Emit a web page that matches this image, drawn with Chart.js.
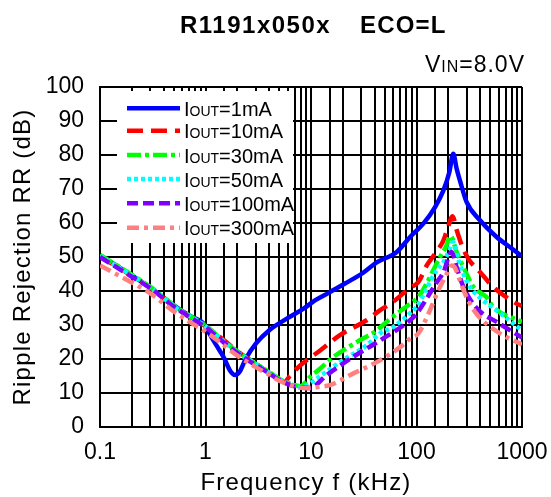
<!DOCTYPE html>
<html>
<head>
<meta charset="utf-8">
<script src="https://cdn.jsdelivr.net/npm/chart.js@4.4.1/dist/chart.umd.min.js"></script>
<style>
html,body{margin:0;padding:0;background:#fff;}
canvas{display:block;}
</style>
</head>
<body>
<canvas id="c" width="551" height="497"></canvas>
<script>
// ---- data (frequency in kHz, ripple rejection in dB) ----
const seriesNames = ["1mA", "10mA", "30mA", "50mA", "100mA", "300mA"];
const xTickLabels = ["0.1", "1", "10", "100", "1000"];
const yTickValues = [0, 10, 20, 30, 40, 50, 60, 70, 80, 90, 100];

const f1mA = [0.1,0.2,0.3,0.5,0.7,1,1.1,1.3,1.5,1.7,1.9,2.1,2.4,3,4,6,8.5,11,15,21,30,42,65,87,116,150,180,205,223,240,258,298,400,575,800,1000];
const rr1mA = [50.5,44.6,41,35.8,32.8,29.8,27.2,23.5,20.3,16.7,15.3,16.2,20,24.5,28.4,32,34.8,37.3,39.6,42.2,45,48.4,51.5,55.9,59.8,64.7,69.6,75,80.4,76,72.5,66.2,60.8,55.9,52.5,50.2];

const f10mA = [0.1,0.2,0.3,0.5,0.7,1,1.5,2,3,4,5,5.6,6.3,7.9,12.2,18.8,33.6,45,60,87,104,125,150,180,197,220,240,276,318,400,533,890,1000];
const rr10mA = [50.2,44.5,41,35.6,32.6,29.6,25.5,22.3,18.6,16,14,13.2,15,18.1,22.5,27,31.4,34.3,36.8,41,42.6,47.5,51,54.9,58.4,62,58,52.5,49,45.6,41.2,36.3,35.6];

const f30mA = [0.1,0.2,0.3,0.5,0.7,1,1.5,2,3,4,5,6.3,7.9,9.8,12,16.3,29,42,52,87,104,125,167,190,211,240,268,298,346,460,533,1000];
const rr30mA = [50.6,44.8,41.2,35.8,32.8,29.8,25.2,22.3,18.6,16.2,14.2,12.8,12,14.7,17,20.6,25.5,28.4,30.9,36.3,38.2,42.3,50,53,56.2,51.5,48.1,45.1,41.2,38.2,35.3,30.9];

const f50mA = [0.1,0.2,0.3,0.5,0.7,1,1.5,2,3,4,5,6.3,7.9,9,11.3,18.8,33.6,45,60,93,100,155,180,205,223,245,270,322,400,575,1000];
const rr50mA = [50.3,44.6,41,35.6,32.6,29.6,25,22,18.4,16,14,12.6,11.8,12.2,14.2,19.1,24,27.5,29.4,34.3,35.3,46.1,48.5,52,54.4,50,46,41.2,38,34.3,28.4];

const f100mA = [0.1,0.2,0.3,0.5,0.7,1,1.5,2,3,4,5,6.3,7.9,9.8,14,25,45.3,87,100,155,180,215,240,276,322,400,575,1000];
const rr100mA = [50,44.2,40.8,35.4,32.4,29.4,24.8,21.8,18.2,15.8,13.8,12.4,11.6,11.5,15.2,20.6,25.5,31.4,33.3,42.5,45.5,51.5,47,41.5,37.5,34,30.9,26.3];

const f300mA = [0.1,0.2,0.3,0.5,0.7,1,1.5,2,3,4,5,6.3,7.9,9.1,12,15.1,25,45,70,87,104,134,160,193,215,230,258,300,370,620,1000];
const rr300mA = [47.5,42.5,39.3,34,31,28,24,21,17.6,15.4,13.6,12.4,11.6,11.4,11.8,12.3,15.7,19.6,23.5,26,27.5,34.3,40,45,47.5,47,43.1,38,33.3,27.5,24.3];

const seriesFreqs = [f1mA, f10mA, f30mA, f50mA, f100mA, f300mA];
const seriesValues = [rr1mA, rr10mA, rr30mA, rr50mA, rr100mA, rr300mA];

// ---- styles ----
const colors = ["#0000FF", "#FF0000", "#00FF00", "#00FFFF", "#8000FF", "#FF8080"];
const dashes = [[], [16, 8], [14, 4, 4, 4], [4, 3], [11, 5], [12, 5, 4, 5]];

const datasets = seriesNames.map((n, i) => ({
  label: "IOUT=" + n,
  data: seriesFreqs[i].map((f, j) => ({ x: f, y: seriesValues[i][j] })),
  borderColor: colors[i],
  backgroundColor: colors[i],
  borderWidth: 4.5,
  borderDash: dashes[i],
  pointRadius: 0,
  fill: false,
  cubicInterpolationMode: "monotone",
  borderCapStyle: "butt"
})).reverse();

const FONT = "'Liberation Sans', Arial, sans-serif";

function drawSpaced(ctx, text, x, y, font, spacing) {
  ctx.font = font;
  ctx.letterSpacing = spacing + "px";
  ctx.fillText(text, x, y);
  const w = ctx.measureText(text).width;
  ctx.letterSpacing = "0px";
  return w;
}

const decor = {
  id: "decor",
  afterDraw(chart) {
    const ctx = chart.ctx;
    const ca = chart.chartArea;
    ctx.save();
    ctx.fillStyle = "#000";
    ctx.textBaseline = "alphabetic";
    ctx.textAlign = "left";
    // title
    drawSpaced(ctx, "R1191x050x", 180, 33, "bold 24px " + FONT, 1.5);
    drawSpaced(ctx, "ECO=L", 360, 33, "bold 24px " + FONT, 1.2);
    // VIN label
    const big = "23px " + FONT;
    const small = "16px " + FONT;
    ctx.letterSpacing = "1px";
    ctx.font = big; const w1 = ctx.measureText("V").width;
    ctx.font = small; const w2 = ctx.measureText("IN").width;
    ctx.font = big; const w3 = ctx.measureText("=8.0V").width;
    let vx = 525 - (w1 + w2 + w3);
    ctx.font = big; ctx.fillText("V", vx, 72); vx += w1;
    ctx.font = small; ctx.fillText("IN", vx, 72); vx += w2;
    ctx.font = big; ctx.fillText("=8.0V", vx, 72);
    ctx.letterSpacing = "0px";
    // axis titles
    ctx.textAlign = "center";
    drawSpaced(ctx, "Frequency f (kHz)", (ca.left + ca.right) / 2 - 5, 490, "24px " + FONT, 1.2);
    ctx.save();
    ctx.translate(30, (ca.top + ca.bottom) / 2);
    ctx.rotate(-Math.PI / 2);
    drawSpaced(ctx, "Ripple Rejection RR (dB)", 0, 0, "24px " + FONT, 1.2);
    ctx.restore();
    // legend
    ctx.fillStyle = "#fff";
    ctx.fillRect(117, 91, 176, 152);
    const rowY = [108.3, 130.7, 155, 179, 203.3, 227.7];
    seriesNames.forEach((n, i) => {
      const y = rowY[i];
      ctx.beginPath();
      ctx.strokeStyle = colors[i];
      ctx.lineWidth = 4.5;
      ctx.setLineDash(dashes[i]);
      ctx.moveTo(127, y);
      ctx.lineTo(180, y);
      ctx.stroke();
      ctx.setLineDash([]);
      ctx.fillStyle = "#000";
      ctx.textAlign = "left";
      let tx = 184;
      const by = y + 7.5;
      ctx.font = "20px " + FONT;
      ctx.fillText("I", tx, by); tx += ctx.measureText("I").width;
      ctx.font = "14px " + FONT;
      ctx.fillText("OUT", tx, by); tx += ctx.measureText("OUT").width;
      ctx.font = "20px " + FONT;
      ctx.fillText("=" + n, tx, by);
    });
    ctx.restore();
  }
};

new Chart(document.getElementById("c"), {
  type: "line",
  data: { datasets },
  options: {
    responsive: false,
    animation: false,
    layout: { padding: { top: 87, right: 29, left: 0, bottom: 0 } },
    plugins: { legend: { display: false }, tooltip: { enabled: false }, title: { display: false } },
    scales: {
      x: {
        type: "logarithmic",
        min: 0.1,
        max: 1000,
        afterFit: (s) => { s.height = 70; s.paddingLeft = 0; s.paddingRight = 0; },
        grid: { color: "#000", lineWidth: 2, drawTicks: false },
        border: { color: "#000", width: 2 },
        ticks: {
          autoSkip: false,
          maxRotation: 0,
          padding: 12,
          color: "#000",
          font: { family: FONT, size: 23 },
          callback: (v) => {
            const l = Math.log10(v);
            if (Math.abs(l - Math.round(l)) < 1e-6) {
              const idx = Math.round(l) + 1;
              return xTickLabels[idx] !== undefined ? xTickLabels[idx] : "";
            }
            return "";
          }
        }
      },
      y: {
        min: 0,
        max: 100,
        afterFit: (s) => { s.width = 100; s.paddingTop = 0; s.paddingBottom = 0; },
        afterBuildTicks: (s) => { s.ticks = yTickValues.map(v => ({ value: v })); },
        grid: { color: "#000", lineWidth: 2, drawTicks: false },
        border: { color: "#000", width: 2 },
        ticks: {
          padding: 16,
          color: "#000",
          font: { family: FONT, size: 23 },
          callback: (v) => String(v)
        }
      }
    }
  },
  plugins: [decor]
});
</script>
</body>
</html>
